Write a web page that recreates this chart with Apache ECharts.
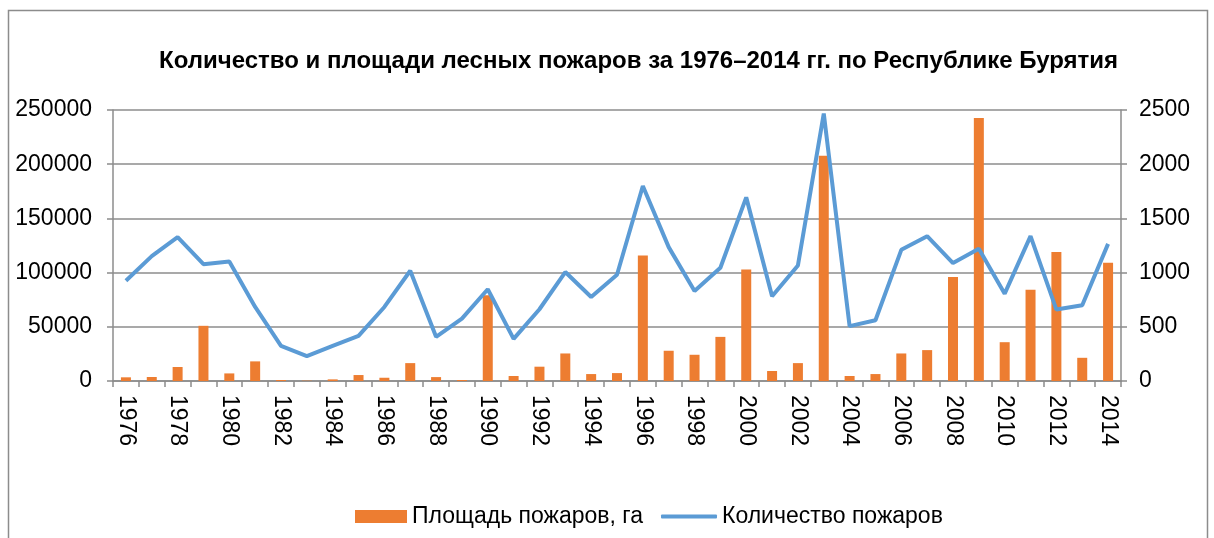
<!DOCTYPE html>
<html>
<head>
<meta charset="utf-8">
<script src="https://cdn.jsdelivr.net/npm/echarts@6/dist/echarts.min.js"></script>
<style>
  html, body { margin: 0; padding: 0; background: #fff; }
  #chart { width: 1214px; height: 538px; }
</style>
</head>
<body>
<div id="chart"></div>
<script>
// годы
const years = [];
for (let y = 1976; y <= 2014; y++) years.push(String(y));

// площадь пожаров, га
const areaHa = [
    3400, 3700, 12900, 50900, 7000, 18100, 900, 300, 1500, 5500,
    3000, 16500, 3600, 900, 79000, 4600, 13200, 25400, 6400, 7300,
    115700, 27900, 24200, 40700, 102800, 9200, 16500, 207700, 4600, 6400,
    25400, 28500, 95900, 242700, 35800, 84200, 118900, 21400, 109100
];

// количество пожаров
const fireCount = [
    925, 1152, 1327, 1078, 1103, 683, 325, 230, 325, 417,
    683, 1017, 408, 576, 846, 389, 662, 1005, 775, 980,
    1799, 1235, 830, 1045, 1694, 781, 1066, 2467, 506, 561,
    1210, 1336, 1088, 1219, 806, 1336, 659, 699, 1265
];

const seriesNames = ['Площадь пожаров, га', 'Количество пожаров'];
const titleText = 'Количество и площади лесных пожаров за 1976–2014 гг. по Республике Бурятия';

const font = 'Liberation Sans, Arial, sans-serif';
const gridColor = '#8c8c8c';
const labelSize = 23;

const chart = echarts.init(document.getElementById('chart'));

const legendText = { fontSize: labelSize, color: '#000', fontFamily: font };

const option = {
    animation: false,
    textStyle: { fontFamily: font },
    graphic: [{
        type: 'rect',
        shape: { x: 8.5, y: 10.5, width: 1199, height: 540 },
        style: { fill: 'none', stroke: '#8c8c8c', lineWidth: 1.5 },
        silent: true
    }],
    title: {
        text: titleText,
        left: 154,
        top: 44,
        textStyle: { fontSize: 24, fontWeight: 'bold', color: '#000', fontFamily: font }
    },
    legend: [{
        data: [seriesNames[0]],
        left: 350,
        top: 500,
        itemWidth: 52,
        itemHeight: 13,
        icon: 'rect',
        itemGap: 6,
        textStyle: legendText
    }, {
        data: [seriesNames[1]],
        left: 656,
        top: 500,
        itemWidth: 56,
        itemHeight: 4,
        icon: 'roundRect',
        textStyle: legendText
    }],
    grid: { left: 113, right: 93, top: 110, bottom: 157 },
    xAxis: {
        type: 'category',
        data: years,
        boundaryGap: true,
        axisLine: { lineStyle: { color: gridColor, width: 1.5 } },
        axisTick: { show: true, interval: 0, length: 6, lineStyle: { color: gridColor, width: 1.5 } },
        axisLabel: { interval: 1, rotate: -90, margin: 14, fontSize: labelSize, color: '#000', fontFamily: font }
    },
    yAxis: [{
        type: 'value',
        min: 0,
        max: 250000,
        interval: 50000,
        axisLine: { show: true, lineStyle: { color: gridColor, width: 1.5 } },
        axisTick: { show: true, length: 6, lineStyle: { color: gridColor, width: 1.5 } },
        splitLine: { lineStyle: { color: gridColor, width: 1.5 } },
        axisLabel: { formatter: v => String(v), fontSize: labelSize, color: '#000', margin: 21, fontFamily: font }
    }, {
        type: 'value',
        min: 0,
        max: 2500,
        interval: 500,
        axisLine: { show: true, lineStyle: { color: gridColor, width: 1.5 } },
        axisTick: { show: true, length: 6, lineStyle: { color: gridColor, width: 1.5 } },
        splitLine: { show: false },
        axisLabel: { formatter: v => String(v), fontSize: labelSize, color: '#000', margin: 18, fontFamily: font }
    }],
    series: [{
        name: seriesNames[0],
        type: 'bar',
        yAxisIndex: 0,
        data: areaHa,
        barWidth: 10,
        itemStyle: { color: '#ED7D31' }
    }, {
        name: seriesNames[1],
        type: 'line',
        yAxisIndex: 1,
        data: fireCount,
        symbol: 'none',
        lineStyle: { color: '#5B9BD5', width: 4 },
        itemStyle: { color: '#5B9BD5' }
    }]
};

chart.setOption(option);
window.addEventListener('resize', () => chart.resize());
</script>
</body>
</html>
